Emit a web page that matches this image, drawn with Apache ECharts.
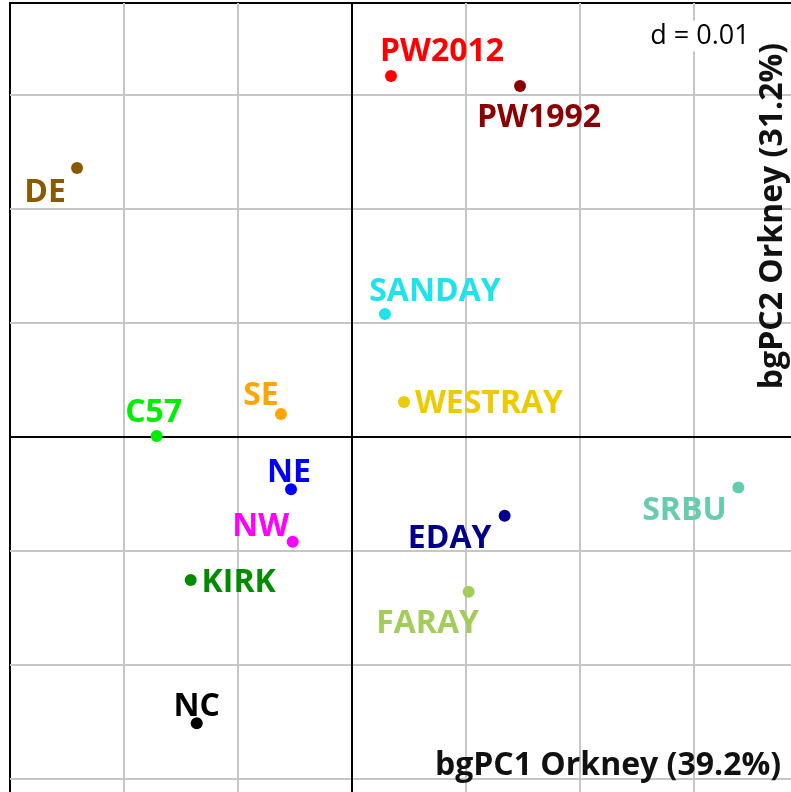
<!DOCTYPE html>
<html>
<head>
<meta charset="utf-8">
<script src="https://cdn.jsdelivr.net/npm/echarts@6/dist/echarts.min.js"></script>
<style>
  html, body { margin: 0; padding: 0; background: #fff; }
  #chart { width: 791px; height: 792px; }
</style>
</head>
<body>
<div id="chart"></div>
<script>
// population names and their between-group PC scores
const populations = ['PW2012', 'PW1992', 'DE', 'SANDAY', 'WESTRAY', 'SE', 'C57',
  'NE', 'NW', 'KIRK', 'NC', 'EDAY', 'FARAY', 'SRBU'];
const pc1 = [0.00342, 0.01474, -0.02412, 0.00289, 0.00456, -0.00623, -0.01713,
  -0.00535, -0.00520, -0.01415, -0.01362, 0.01339, 0.01023, 0.03389];
const pc2 = [0.03167, 0.03079, 0.02360, 0.01079, 0.00307, 0.00202, 0.00009,
  -0.00459, -0.00918, -0.01254, -0.02512, -0.00690, -0.01357, -0.00444];

const xTitle = 'bgPC1 Orkney (39.2%)';
const yTitle = 'bgPC2 Orkney (31.2%)';
const scaleNote = 'd = 0.01';

// styling per population
const colors = {
  PW2012: '#ff0000', PW1992: '#8b0000', DE: '#8b5a00', SANDAY: '#1fe3ea',
  WESTRAY: '#eecb00', SE: '#ffa500', C57: '#00ee00', NE: '#0000ff',
  NW: '#ff00ff', KIRK: '#008b00', NC: '#000000', EDAY: '#00008b',
  FARAY: '#a2cd5a', SRBU: '#66cdaa'
};
const labelOffsets = {
  PW2012: [51, -24], PW1992: [19, 32], DE: [-32, 25], SANDAY: [50, -22],
  WESTRAY: [85, 2], SE: [-20, -18], C57: [-3, -23], NE: [-2, -16],
  NW: [-32, -15], KIRK: [48, 3], NC: [0, -16], EDAY: [-55, 23],
  FARAY: [-41, 32], SRBU: [-54, 23]
};

const chart = echarts.init(document.getElementById('chart'));

const points = populations.map((name, i) => ({
  name: name,
  value: [pc1[i], pc2[i]],
  itemStyle: { color: colors[name], opacity: 1 },
  label: { color: colors[name], offset: labelOffsets[name] }
}));

const font = '"Open Sans", "Noto Sans", sans-serif';

chart.setOption({
  animation: false,
  backgroundColor: '#fff',
  grid: {
    left: 10, top: 3, width: 798, height: 890,
    outerBoundsMode: 'none', containLabel: false,
    show: true, borderColor: '#000', borderWidth: 2, backgroundColor: '#fff'
  },
  xAxis: {
    type: 'value', min: -0.03, max: 0.04, interval: 0.01,
    axisLine: { onZero: true, lineStyle: { color: '#000', width: 2 } },
    axisTick: { show: false }, axisLabel: { show: false },
    splitLine: { show: true, showMinLine: false, lineStyle: { color: '#c6c6c6', width: 2 } }
  },
  yAxis: {
    type: 'value', min: -0.04, max: 0.03807, interval: 0.01,
    axisLine: { onZero: true, lineStyle: { color: '#000', width: 2 } },
    axisTick: { show: false }, axisLabel: { show: false },
    splitLine: { show: true, showMaxLine: false, lineStyle: { color: '#c6c6c6', width: 2 } }
  },
  series: [{
    type: 'scatter',
    symbolSize: 12,
    data: points,
    label: {
      show: true, position: 'inside', formatter: '{b}',
      fontFamily: font, fontWeight: 'bold', fontSize: 32,
      align: 'center', verticalAlign: 'middle'
    },
    emphasis: { disabled: true }
  }],
  graphic: [
    {
      type: 'text', x: 700, y: 36, z: 10,
      style: {
        text: scaleNote, font: '27px ' + font, fill: '#000',
        align: 'center', verticalAlign: 'middle',
        backgroundColor: '#fff', padding: [2, 3]
      }
    },
    {
      type: 'text', x: 608, y: 766, z: 10,
      style: {
        text: xTitle, font: 'bold 32px ' + font, fill: '#111',
        align: 'center', verticalAlign: 'middle'
      }
    },
    {
      type: 'text', x: 773, y: 216, rotation: Math.PI / 2, z: 10,
      style: {
        text: yTitle, font: 'bold 32px ' + font, fill: '#111',
        align: 'center', verticalAlign: 'middle'
      }
    }
  ]
});
</script>
</body>
</html>
